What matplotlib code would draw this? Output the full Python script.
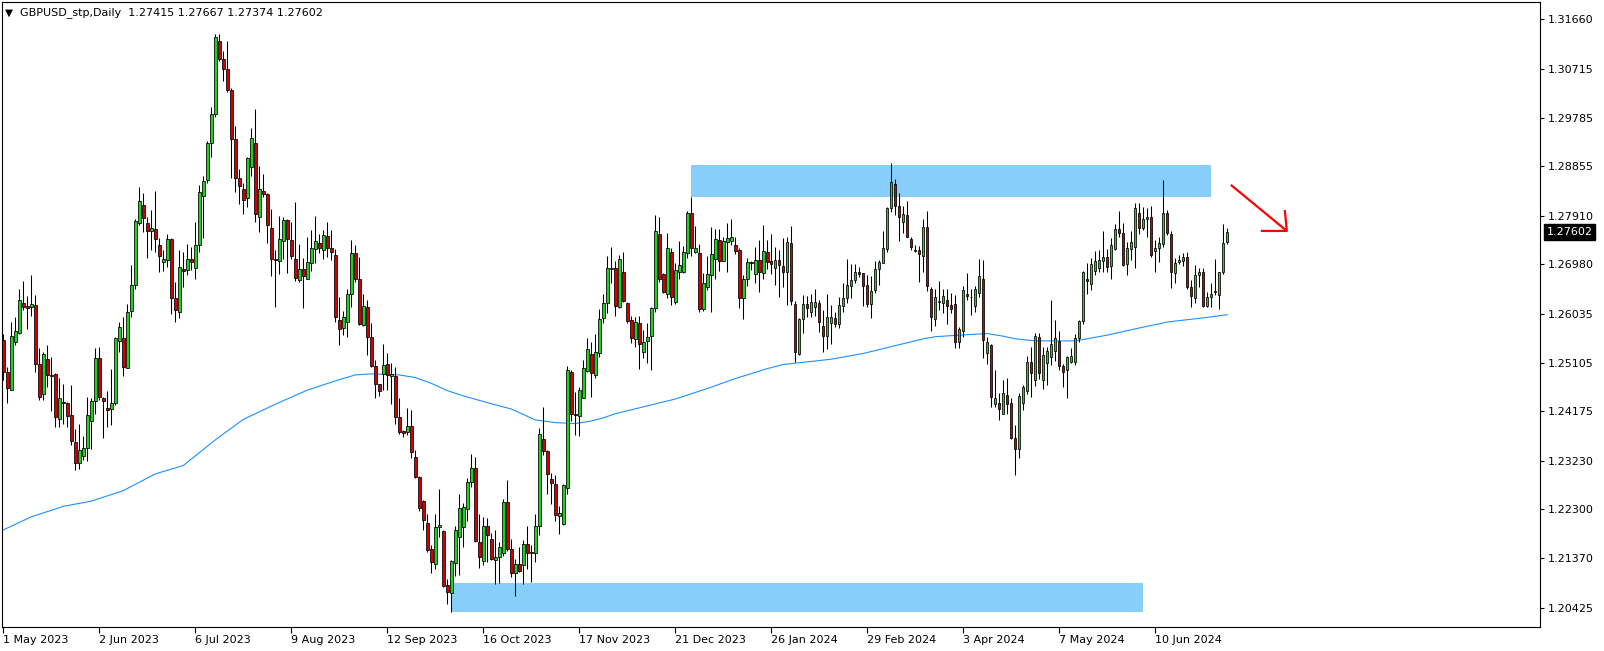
import numpy as np
import matplotlib
matplotlib.use("Agg")
import matplotlib.pyplot as plt
import matplotlib.transforms as mtransforms
from matplotlib.patches import Rectangle

# GBPUSD daily, bar 0 = 1 May 2023 ... bar 306 = 4 Jul 2024
opens = [
    1.2554, 1.2493, 1.2459, 1.2549, 1.2568, 1.2624, 1.2619, 1.2616, 1.2620, 1.2507,
    1.2450, 1.2517, 1.2487, 1.2488, 1.2402, 1.2435, 1.2434, 1.2410, 1.2358, 1.2318,
    1.2333, 1.2348, 1.2399, 1.2437, 1.2519, 1.2443, 1.2424, 1.2421, 1.2433, 1.2551,
    1.2557, 1.2501, 1.2610, 1.2658, 1.2777, 1.2812, 1.2778, 1.2761, 1.2766, 1.2736,
    1.2702, 1.2706, 1.2746, 1.2633, 1.2608, 1.2689, 1.2687, 1.2708, 1.2692, 1.2736,
    1.2829, 1.2859, 1.2929, 1.2985, 1.3124, 1.3090, 1.3071, 1.3032, 1.2937, 1.2864,
    1.2843, 1.2824, 1.2885, 1.2929, 1.2789, 1.2839, 1.2832, 1.2767, 1.2708, 1.2705,
    1.2743, 1.2783, 1.2745, 1.2709, 1.2669, 1.2689, 1.2671, 1.2700, 1.2727, 1.2738,
    1.2726, 1.2752, 1.2729, 1.2716, 1.2592, 1.2576, 1.2589, 1.2642, 1.2719, 1.2671,
    1.2582, 1.2616, 1.2560, 1.2505, 1.2469, 1.2489, 1.2508, 1.2484, 1.2484, 1.2406,
    1.2380, 1.2378, 1.2389, 1.2331, 1.2292, 1.2246, 1.2205, 1.2154, 1.2125, 1.2196,
    1.2189, 1.2085, 1.2071, 1.2127, 1.2178, 1.2196, 1.2231, 1.2282, 1.2310, 1.2167,
    1.2132, 1.2199, 1.2173, 1.2134, 1.2140, 1.2146, 1.2245, 1.2155, 1.2108, 1.2125,
    1.2124, 1.2165, 1.2148, 1.2146, 1.2198, 1.2364, 1.2341, 1.2289, 1.2278, 1.2218,
    1.2203, 1.2272, 1.2492, 1.2413, 1.2409, 1.2443, 1.2494, 1.2527, 1.2487, 1.2528,
    1.2595, 1.2624, 1.2689, 1.2692, 1.2617, 1.2683, 1.2624, 1.2591, 1.2556, 1.2587,
    1.2530, 1.2552, 1.2561, 1.2614, 1.2757, 1.2679, 1.2641, 1.2722, 1.2626, 1.2684,
    1.2684, 1.2720, 1.2796, 1.2722, 1.2720, 1.2613, 1.2654, 1.2678, 1.2708, 1.2745,
    1.2705, 1.2740, 1.2743, 1.2735, 1.2726, 1.2633, 1.2671, 1.2703, 1.2679, 1.2706,
    1.2682, 1.2722, 1.2704, 1.2692, 1.2706, 1.2695, 1.2683, 1.2738, 1.2622, 1.2527,
    1.2593, 1.2622, 1.2608, 1.2616, 1.2624, 1.2580, 1.2562, 1.2587, 1.2595, 1.2585,
    1.2619, 1.2633, 1.2657, 1.2668, 1.2683, 1.2681, 1.2659, 1.2622, 1.2649, 1.2689,
    1.2701, 1.2728, 1.2805, 1.2851, 1.2810, 1.2780, 1.2792, 1.2746, 1.2726, 1.2726,
    1.2715, 1.2770, 1.2652, 1.2593, 1.2626, 1.2624, 1.2630, 1.2620, 1.2622, 1.2549,
    1.2571, 1.2642, 1.2635, 1.2619, 1.2643, 1.2670, 1.2529, 1.2544, 1.2431, 1.2434,
    1.2413, 1.2449, 1.2433, 1.2367, 1.2345, 1.2434, 1.2456, 1.2511, 1.2477, 1.2560,
    1.2478, 1.2509, 1.2522, 1.2533, 1.2552, 1.2504, 1.2496, 1.2512, 1.2512, 1.2557,
    1.2590, 1.2670, 1.2660, 1.2686, 1.2692, 1.2705, 1.2713, 1.2695, 1.2727, 1.2765,
    1.2759, 1.2698, 1.2727, 1.2732, 1.2796, 1.2768, 1.2784, 1.2788, 1.2724, 1.2729,
    1.2737, 1.2796, 1.2757, 1.2681, 1.2702, 1.2705, 1.2713, 1.2654, 1.2633, 1.2677,
    1.2683, 1.2618, 1.2636, 1.2645, 1.2640, 1.2683, 1.27415,
]
highs = [
    1.2566, 1.2503, 1.2588, 1.2598, 1.2651, 1.2666, 1.2638, 1.2678, 1.2640, 1.2538,
    1.2531, 1.2544, 1.2522, 1.2490, 1.2482, 1.2469, 1.2435, 1.2468, 1.2384, 1.2393,
    1.2370, 1.2444, 1.2442, 1.2538, 1.2541, 1.2445, 1.2457, 1.2498, 1.2560, 1.2589,
    1.2598, 1.2622, 1.2697, 1.2785, 1.2845, 1.2834, 1.2789, 1.2802, 1.2839, 1.2748,
    1.2725, 1.2757, 1.2748, 1.2665, 1.2725, 1.2721, 1.2737, 1.2732, 1.2780, 1.2850,
    1.2867, 1.2934, 1.2998, 1.3139, 1.3139, 1.3106, 1.3125, 1.3035, 1.2962, 1.2881,
    1.2853, 1.2904, 1.2959, 1.2995, 1.2886, 1.2871, 1.2835, 1.2804, 1.2725, 1.2790,
    1.2789, 1.2785, 1.2780, 1.2817, 1.2737, 1.2711, 1.2750, 1.2764, 1.2790, 1.2757,
    1.2764, 1.2780, 1.2764, 1.2727, 1.2635, 1.2610, 1.2652, 1.2745, 1.2735, 1.2713,
    1.2642, 1.2630, 1.2587, 1.2515, 1.2470, 1.2546, 1.2529, 1.2509, 1.2503, 1.2443,
    1.2382, 1.2423, 1.2420, 1.2343, 1.2294, 1.2248, 1.2222, 1.2162, 1.2222, 1.2269,
    1.2190, 1.2098, 1.2133, 1.2198, 1.2259, 1.2243, 1.2291, 1.2336, 1.2331, 1.2222,
    1.2216, 1.2213, 1.2186, 1.2191, 1.2168, 1.2251, 1.2286, 1.2173, 1.2136, 1.2159,
    1.2171, 1.2198, 1.2162, 1.2222, 1.2386, 1.2425, 1.2343, 1.2300, 1.2296, 1.2237,
    1.2278, 1.2504, 1.2497, 1.2455, 1.2463, 1.2515, 1.2557, 1.2549, 1.2566, 1.2613,
    1.2641, 1.2714, 1.2731, 1.2705, 1.2716, 1.2722, 1.2627, 1.2599, 1.2598, 1.2599,
    1.2573, 1.2587, 1.2616, 1.2792, 1.2789, 1.2681, 1.2759, 1.2729, 1.2701, 1.2743,
    1.2733, 1.2801, 1.2827, 1.2771, 1.2737, 1.2681, 1.2715, 1.2770, 1.2765, 1.2765,
    1.2750, 1.2778, 1.2785, 1.2750, 1.2729, 1.2678, 1.2710, 1.2705, 1.2731, 1.2745,
    1.2773, 1.2745, 1.2756, 1.2732, 1.2726, 1.2748, 1.2750, 1.2771, 1.2629, 1.2595,
    1.2640, 1.2638, 1.2641, 1.2652, 1.2631, 1.2611, 1.2641, 1.2620, 1.2608, 1.2636,
    1.2662, 1.2708, 1.2699, 1.2699, 1.2694, 1.2682, 1.2678, 1.2675, 1.2705, 1.2706,
    1.2761, 1.2808, 1.2891, 1.2861, 1.2834, 1.2810, 1.2820, 1.2750, 1.2735, 1.2733,
    1.2785, 1.2800, 1.2654, 1.2651, 1.2666, 1.2652, 1.2652, 1.2643, 1.2640, 1.2578,
    1.2656, 1.2682, 1.2652, 1.2657, 1.2708, 1.2707, 1.2560, 1.2547, 1.2496, 1.2452,
    1.2478, 1.2482, 1.2442, 1.2391, 1.2452, 1.2468, 1.2523, 1.2541, 1.2568, 1.2568,
    1.2540, 1.2541, 1.2631, 1.2592, 1.2570, 1.2508, 1.2524, 1.2539, 1.2565, 1.2592,
    1.2685, 1.2700, 1.2710, 1.2724, 1.2726, 1.2761, 1.2727, 1.2748, 1.2775, 1.2800,
    1.2777, 1.2740, 1.2762, 1.2815, 1.2815, 1.2808, 1.2806, 1.2810, 1.2745, 1.2751,
    1.2859, 1.2802, 1.2762, 1.2710, 1.2716, 1.2720, 1.2722, 1.2668, 1.2697, 1.2691,
    1.2692, 1.2646, 1.2662, 1.2708, 1.2684, 1.2775, 1.27667,
]
lows = [
    1.2477, 1.2433, 1.2459, 1.2545, 1.2566, 1.2611, 1.2575, 1.2600, 1.2493, 1.2440,
    1.2440, 1.2463, 1.2419, 1.2388, 1.2388, 1.2394, 1.2387, 1.2353, 1.2305, 1.2308,
    1.2324, 1.2323, 1.2345, 1.2413, 1.2439, 1.2366, 1.2388, 1.2392, 1.2429, 1.2531,
    1.2484, 1.2501, 1.2598, 1.2652, 1.2773, 1.2760, 1.2711, 1.2726, 1.2722, 1.2683,
    1.2686, 1.2694, 1.2604, 1.2588, 1.2596, 1.2655, 1.2678, 1.2687, 1.2671, 1.2722,
    1.2748, 1.2853, 1.2903, 1.2979, 1.3087, 1.3049, 1.3027, 1.2864, 1.2837, 1.2813,
    1.2795, 1.2807, 1.2867, 1.2780, 1.2760, 1.2826, 1.2738, 1.2676, 1.2617, 1.2680,
    1.2708, 1.2681, 1.2708, 1.2667, 1.2664, 1.2614, 1.2670, 1.2686, 1.2700, 1.2719,
    1.2708, 1.2713, 1.2707, 1.2589, 1.2545, 1.2563, 1.2560, 1.2616, 1.2665, 1.2582,
    1.2580, 1.2525, 1.2503, 1.2442, 1.2447, 1.2458, 1.2459, 1.2431, 1.2394, 1.2375,
    1.2368, 1.2372, 1.2329, 1.2290, 1.2227, 1.2191, 1.2149, 1.2108, 1.2117, 1.2178,
    1.2082, 1.2050, 1.2034, 1.2103, 1.2105, 1.2159, 1.2208, 1.2273, 1.2168, 1.2119,
    1.2124, 1.2130, 1.2133, 1.2087, 1.2090, 1.2141, 1.2150, 1.2101, 1.2065, 1.2111,
    1.2087, 1.2117, 1.2092, 1.2130, 1.2181, 1.2334, 1.2259, 1.2240, 1.2208, 1.2184,
    1.2201, 1.2259, 1.2399, 1.2373, 1.2371, 1.2443, 1.2493, 1.2445, 1.2482, 1.2522,
    1.2587, 1.2605, 1.2662, 1.2600, 1.2615, 1.2626, 1.2587, 1.2548, 1.2541, 1.2499,
    1.2520, 1.2509, 1.2496, 1.2608, 1.2665, 1.2643, 1.2633, 1.2620, 1.2622, 1.2670,
    1.2681, 1.2710, 1.2715, 1.2719, 1.2608, 1.2610, 1.2649, 1.2608, 1.2670, 1.2686,
    1.2704, 1.2684, 1.2736, 1.2718, 1.2614, 1.2593, 1.2656, 1.2687, 1.2662, 1.2646,
    1.2670, 1.2690, 1.2680, 1.2659, 1.2636, 1.2655, 1.2620, 1.2620, 1.2512, 1.2525,
    1.2568, 1.2598, 1.2597, 1.2599, 1.2569, 1.2531, 1.2536, 1.2547, 1.2579, 1.2576,
    1.2608, 1.2624, 1.2633, 1.2663, 1.2674, 1.2619, 1.2617, 1.2596, 1.2643, 1.2659,
    1.2700, 1.2722, 1.2799, 1.2792, 1.2743, 1.2759, 1.2750, 1.2726, 1.2722, 1.2665,
    1.2684, 1.2648, 1.2571, 1.2580, 1.2611, 1.2605, 1.2584, 1.2606, 1.2538, 1.2538,
    1.2560, 1.2631, 1.2601, 1.2608, 1.2636, 1.2519, 1.2508, 1.2426, 1.2426, 1.2401,
    1.2412, 1.2413, 1.2364, 1.2296, 1.2329, 1.2420, 1.2450, 1.2445, 1.2466, 1.2480,
    1.2461, 1.2468, 1.2506, 1.2514, 1.2496, 1.2464, 1.2442, 1.2510, 1.2506, 1.2550,
    1.2585, 1.2641, 1.2649, 1.2678, 1.2684, 1.2684, 1.2684, 1.2670, 1.2725, 1.2750,
    1.2695, 1.2678, 1.2706, 1.2692, 1.2757, 1.2764, 1.2751, 1.2712, 1.2684, 1.2703,
    1.2732, 1.2754, 1.2653, 1.2663, 1.2699, 1.2695, 1.2652, 1.2617, 1.2624, 1.2655,
    1.2617, 1.2616, 1.2617, 1.2640, 1.2613, 1.2679, 1.27374,
]
closes = [
    1.2493, 1.2462, 1.2561, 1.2571, 1.2630, 1.2616, 1.2614, 1.2622, 1.2507, 1.2445,
    1.2527, 1.2487, 1.2484, 1.2406, 1.2442, 1.2433, 1.2409, 1.2361, 1.2318, 1.2343,
    1.2348, 1.2410, 1.2437, 1.2519, 1.2445, 1.2438, 1.2420, 1.2434, 1.2557, 1.2578,
    1.2503, 1.2608, 1.2658, 1.2781, 1.2820, 1.2787, 1.2761, 1.2767, 1.2746, 1.2714,
    1.2708, 1.2746, 1.2633, 1.2611, 1.2694, 1.2686, 1.2708, 1.2702, 1.2736, 1.2836,
    1.2858, 1.2929, 1.2985, 1.3132, 1.3090, 1.3071, 1.3032, 1.2937, 1.2864, 1.2848,
    1.2822, 1.2902, 1.2939, 1.2794, 1.2843, 1.2832, 1.2774, 1.2708, 1.2706, 1.2746,
    1.2783, 1.2746, 1.2715, 1.2673, 1.2690, 1.2676, 1.2702, 1.2729, 1.2743, 1.2729,
    1.2754, 1.2729, 1.2721, 1.2597, 1.2574, 1.2598, 1.2642, 1.2719, 1.2671, 1.2584,
    1.2619, 1.2560, 1.2505, 1.2469, 1.2457, 1.2506, 1.2487, 1.2489, 1.2406, 1.2378,
    1.2377, 1.2389, 1.2340, 1.2292, 1.2232, 1.2210, 1.2152, 1.2130, 1.2196, 1.2200,
    1.2084, 1.2073, 1.2131, 1.2191, 1.2232, 1.2234, 1.2283, 1.2310, 1.2170, 1.2140,
    1.2199, 1.2181, 1.2135, 1.2139, 1.2159, 1.2245, 1.2155, 1.2108, 1.2125, 1.2113,
    1.2165, 1.2147, 1.2146, 1.2199, 1.2375, 1.2341, 1.2297, 1.2281, 1.2220, 1.2224,
    1.2276, 1.2496, 1.2413, 1.2410, 1.2459, 1.2501, 1.2536, 1.2491, 1.2530, 1.2593,
    1.2624, 1.2691, 1.2692, 1.2619, 1.2708, 1.2629, 1.2590, 1.2557, 1.2589, 1.2546,
    1.2550, 1.2559, 1.2614, 1.2762, 1.2670, 1.2645, 1.2729, 1.2635, 1.2687, 1.2696,
    1.2722, 1.2796, 1.2729, 1.2729, 1.2612, 1.2662, 1.2680, 1.2718, 1.2746, 1.2705,
    1.2742, 1.2749, 1.2750, 1.2724, 1.2633, 1.2671, 1.2702, 1.2700, 1.2706, 1.2683,
    1.2724, 1.2703, 1.2698, 1.2706, 1.2696, 1.2684, 1.2740, 1.2629, 1.2530, 1.2593,
    1.2622, 1.2614, 1.2627, 1.2626, 1.2589, 1.2562, 1.2597, 1.2597, 1.2585, 1.2620,
    1.2633, 1.2659, 1.2669, 1.2683, 1.2680, 1.2657, 1.2622, 1.2648, 1.2689, 1.2702,
    1.2729, 1.2805, 1.2856, 1.2810, 1.2789, 1.2794, 1.2751, 1.2731, 1.2724, 1.2718,
    1.2770, 1.2656, 1.2598, 1.2635, 1.2628, 1.2638, 1.2619, 1.2613, 1.2549, 1.2574,
    1.2650, 1.2638, 1.2636, 1.2652, 1.2676, 1.2554, 1.2549, 1.2445, 1.2442, 1.2422,
    1.2452, 1.2431, 1.2367, 1.2345, 1.2447, 1.2463, 1.2511, 1.2490, 1.2561, 1.2490,
    1.2525, 1.2533, 1.2546, 1.2557, 1.2504, 1.2493, 1.2522, 1.2523, 1.2557, 1.2590,
    1.2683, 1.2667, 1.2698, 1.2705, 1.2706, 1.2713, 1.2694, 1.2735, 1.2765, 1.2759,
    1.2697, 1.2729, 1.2740, 1.2805, 1.2767, 1.2784, 1.2788, 1.2716, 1.2729, 1.2738,
    1.2796, 1.2759, 1.2684, 1.2701, 1.2706, 1.2713, 1.2654, 1.2638, 1.2677, 1.2683,
    1.2618, 1.2636, 1.2641, 1.2647, 1.2683, 1.2738, 1.27602,
]

# moving average, bar index -> value
ma_bars = [0, 7, 15, 22, 30, 38, 45, 53, 60, 68, 76, 84, 88, 92, 99, 103, 107, 111,
           115, 122, 127, 133, 138, 143, 147, 150, 153, 160, 168, 176, 183, 191, 195,
           207, 215, 222, 230, 233, 239, 246, 250, 253, 258, 262, 268, 276, 283, 291,
           300, 306]
ma_vals = [1.2191, 1.2216, 1.2236, 1.2246, 1.2266, 1.2298, 1.2314, 1.2363, 1.2402,
           1.2431, 1.2458, 1.2478, 1.2487, 1.2489, 1.2487, 1.2482, 1.2471, 1.2457,
           1.2447, 1.2432, 1.2422, 1.2401, 1.2396, 1.2394, 1.2399, 1.2405, 1.2413,
           1.2426, 1.2441, 1.2461, 1.2480, 1.2499, 1.2507, 1.2517, 1.2528, 1.2541,
           1.2556, 1.2560, 1.2563, 1.2566, 1.2561, 1.2556, 1.2552, 1.2552, 1.2552,
           1.2563, 1.2575, 1.2588, 1.2596, 1.2602]

# supply / demand zones: (bar start, bar end, price low, price high)
zone_top = (171.9, 301.9, 1.2827, 1.2888)
zone_bottom = (112.2, 284.9, 1.2035, 1.2090)

# red arrow drawn on the chart
arrow_x = [306.9, 320.9]
arrow_y = [1.2850, 1.2762]
head_x = [314.4, 320.9, 320.4]
head_y = [1.2762, 1.2762, 1.2802]

price_ticks = [1.20425, 1.21370, 1.22300, 1.23230, 1.24175, 1.25105, 1.26035,
               1.26980, 1.27910, 1.28855, 1.29785, 1.30715, 1.31660]
date_ticks = [0, 24, 48, 72, 96, 120, 144, 168, 192, 216, 240, 264, 288]
date_labels = ["1 May 2023", "2 Jun 2023", "6 Jul 2023", "9 Aug 2023",
               "12 Sep 2023", "16 Oct 2023", "17 Nov 2023", "21 Dec 2023",
               "26 Jan 2024", "29 Feb 2024", "3 Apr 2024", "7 May 2024",
               "10 Jun 2024"]

BULL = "#22D022"
BEAR = "#D00000"
ZONE = "#87CEFA"
MA_COLOR = "#1E90FF"

o = np.array(opens)
h = np.array(highs)
l = np.array(lows)
c = np.array(closes)
x = np.arange(len(c))
body_colors = np.where(c >= o, BULL, BEAR)

W, H = 1604, 651
fig = plt.figure(figsize=(W / 100, H / 100), dpi=100)
ax = fig.add_axes([2 / W, 1 - 627 / H, (1540 - 2) / W, (627 - 2) / H])

for zx0, zx1, zy0, zy1 in (zone_top, zone_bottom):
    ax.add_patch(Rectangle((zx0, zy0), zx1 - zx0, zy1 - zy0, facecolor=ZONE,
                           edgecolor="none", zorder=1))

ax.plot(ma_bars, ma_vals, color=MA_COLOR, lw=0.8, zorder=2)

ax.vlines(x, l, h, color="black", lw=0.75, zorder=3)
ax.bar(x, np.abs(c - o), bottom=np.minimum(o, c), width=0.62, color=body_colors,
       edgecolor="black", linewidth=0.55, zorder=4)

ax.plot(arrow_x, arrow_y, color="red", lw=1.6, zorder=5, solid_capstyle="butt")
ax.plot(head_x, head_y, color="red", lw=1.6, zorder=5, solid_capstyle="butt")

ax.set_xlim(-0.33, 384.2)
ax.set_ylim(1.20056, 1.31992)

ax.yaxis.tick_right()
ax.set_yticks(price_ticks)
ax.set_yticklabels([f"{v:.5f}" for v in price_ticks])
ax.tick_params(axis="y", direction="out", length=3, width=0.8, pad=2.5,
               labelsize=8, colors="black")
ax.set_xticks(date_ticks)
ax.set_xticklabels(date_labels)
for lbl in ax.get_xticklabels():
    lbl.set_horizontalalignment("left")
ax.tick_params(axis="x", direction="out", length=4, width=0.8, pad=1.5,
               labelsize=8, colors="black")
for sp in ax.spines.values():
    sp.set_linewidth(0.8)
    sp.set_color("black")

# last price tag on the price scale
trans = mtransforms.blended_transform_factory(ax.transAxes, ax.transData)
ax.annotate(f"{closes[-1]:.5f}", xy=(1, closes[-1]), xycoords=trans,
            xytext=(4.6, 0), textcoords="offset points", ha="left", va="center",
            fontsize=8, color="white", annotation_clip=False,
            bbox=dict(boxstyle="square,pad=0.25", fc="black", ec="black"))

# chart header
fig.text(5 / W, 1 - 12.5 / H, "\u25bc", fontsize=7.5, va="center", ha="left")
fig.text(20.5 / W, 1 - 12.5 / H,
         f"GBPUSD_stp,Daily  {opens[-1]:.5f} {highs[-1]:.5f} {lows[-1]:.5f} {closes[-1]:.5f}",
         fontsize=8, va="center", ha="left")

fig.savefig("out.png", dpi=100)
